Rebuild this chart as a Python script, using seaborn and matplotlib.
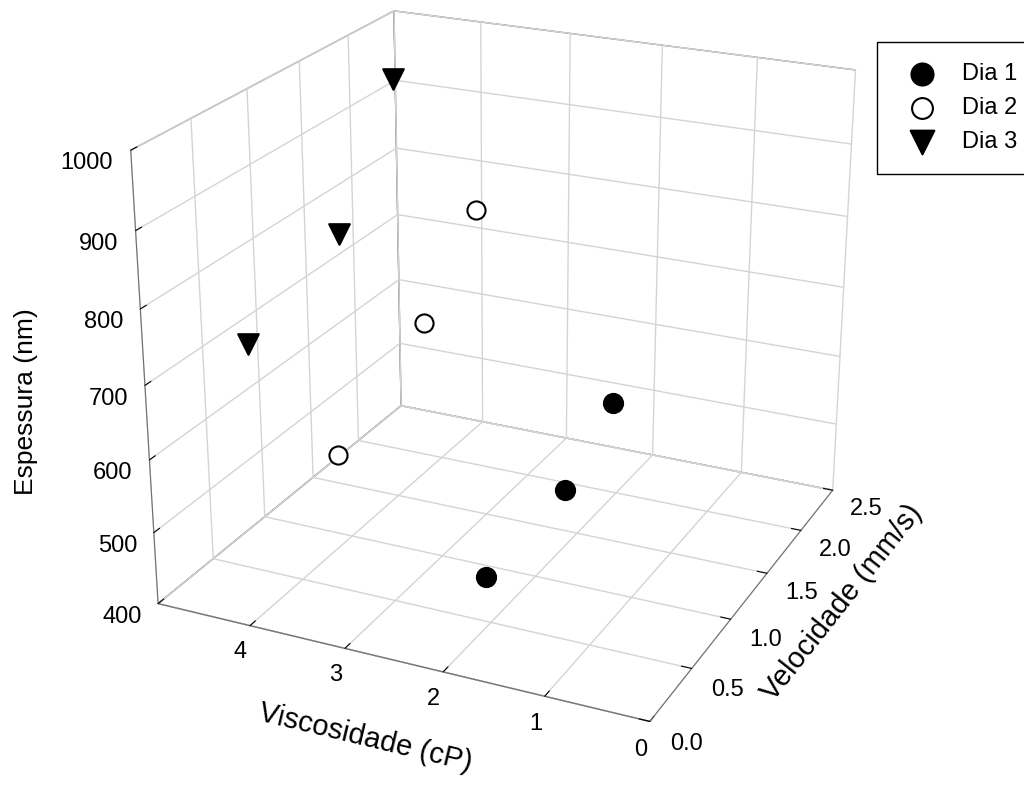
import matplotlib
matplotlib.use('Agg')
import matplotlib.pyplot as plt
import numpy as np
import seaborn as sns

days = ['Dia 1', 'Dia 2', 'Dia 3']
viscosidade = {'Dia 1': [2.05, 2.05, 2.05], 'Dia 2': [3.58, 3.58, 3.58], 'Dia 3': [4.5, 4.5, 4.5]}
velocidade = [0.5, 1.4, 2.0]
espessura = {'Dia 1': [462, 474, 534], 'Dia 2': [587, 675, 780], 'Dia 3': [715, 780, 948]}

x_ticks = [0, 1, 2, 3, 4]
y_ticks = [0.0, 0.5, 1.0, 1.5, 2.0, 2.5]
z_ticks = [400, 500, 600, 700, 800, 900, 1000]

sns.set_style('white')
plt.rcParams['font.family'] = ['Liberation Sans', 'DejaVu Sans']
plt.rcParams['text.color'] = 'black'
plt.rcParams['axes.labelcolor'] = 'black'

styles = {'Dia 1': dict(marker='o', facecolor='black', edgecolor='black', s=190),
          'Dia 2': dict(marker='o', facecolor='white', edgecolor='black', s=170),
          'Dia 3': dict(marker='v', facecolor='black', edgecolor='black', s=220)}

fig = plt.figure(figsize=(10.24, 7.87), dpi=100)
ax = fig.add_axes([0.063, 0.062, 0.85, 1.0], projection='3d')

for d in days:
    ax.scatter(viscosidade[d], velocidade, espessura[d], label=d, depthshade=False,
               linewidths=1.5, **styles[d])

ax.set_xlim(5, 0)
ax.set_ylim(0, 2.5)
ax.set_zlim(400, 1000)
ax.set_xticks(x_ticks)
ax.set_yticks(y_ticks)
ax.set_yticklabels([f'{v:.1f}' for v in y_ticks])
ax.set_zticks(z_ticks)
ax.set_box_aspect((1, 1, 0.9), zoom=1.085)
ax.set_proj_type('persp', focal_length=0.6)
ax.view_init(elev=22.7, azim=-65)
ax.zaxis.set_ticks_position('lower')
ax.zaxis.set_label_position('lower')

for axis in (ax.xaxis, ax.yaxis, ax.zaxis):
    axis.set_pane_color((1, 1, 1, 1))
    axis.pane.set_edgecolor('#707070')
    axis.pane.set_linewidth(1.0)
    axis.line.set_color('#707070')
    axis._axinfo['grid']['color'] = '#d4d4d4'
    axis._axinfo['grid']['linewidth'] = 1.0
    axis._axinfo['tick']['inward_factor'] = 0.0
    axis._axinfo['tick']['outward_factor'] = 0.25
    axis.set_tick_params(labelsize=17, colors='black')

ax.zaxis.set_tick_params(pad=-1.5)
for lab in ax.get_xticklabels():
    lab.set_va('center')
for lab in ax.get_yticklabels():
    lab.set_ha('left')
    lab.set_va('center')
for lab in ax.get_zticklabels():
    lab.set_ha('right')

# velocity label sits to the right of its axis, not below it
ax.yaxis._axinfo['label']['ha'] = 'left'
ax.yaxis._axinfo['label']['rotation_mode'] = 'default'
ax.yaxis.label.set_rotation_mode('default')

ax.zaxis.set_rotate_label(False)
ax.set_xlabel('Viscosidade (cP)', fontsize=21, labelpad=12)
ax.set_ylabel('Velocidade (mm/s)', fontsize=21, labelpad=-17)
ax.set_zlabel('Espessura (nm)', fontsize=19, labelpad=24, rotation=90)

fig.legend(loc='upper left', bbox_to_anchor=(877 / 1024, 1 - 42 / 787), fontsize=17,
           frameon=True, fancybox=False, edgecolor='black', framealpha=1,
           labelspacing=0.5, handletextpad=0.7, borderpad=0.9, borderaxespad=0,
           markerscale=1.15)

fig.savefig('out.png', dpi=100)
